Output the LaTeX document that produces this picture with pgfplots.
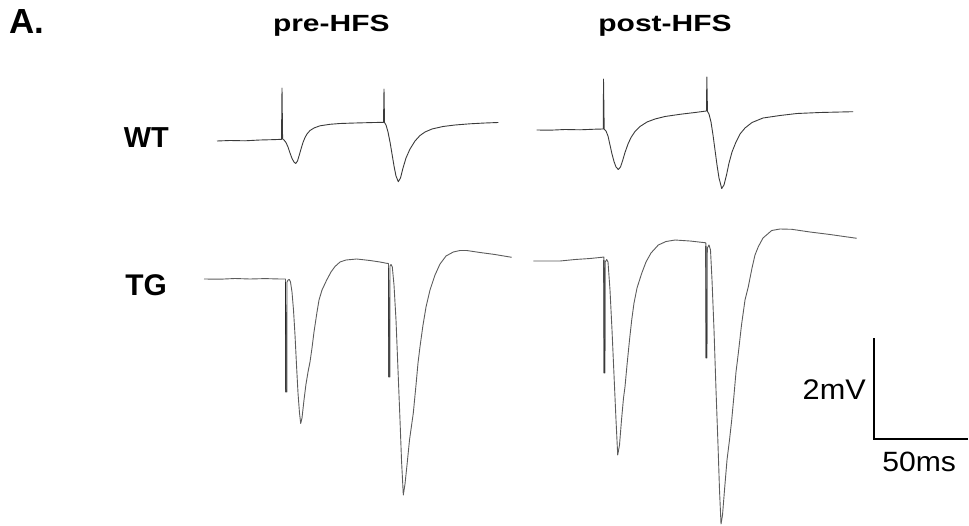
\documentclass[border=0pt]{standalone}
\usepackage{fontspec}
\setmainfont{Liberation Sans}
\usepackage{pgfplots}
\pgfplotsset{compat=1.18}

\definecolor{wtline}{HTML}{3A3A3A}
\definecolor{tgline}{HTML}{5C5C5C}
\definecolor{artline}{HTML}{262626}

\begin{document}
\begin{tikzpicture}
\begin{axis}[
  width=969bp, height=526bp, scale only axis,
  xmin=0, xmax=969, ymin=0, ymax=526,
  y dir=reverse,
  hide axis, clip=false,
]
% keep the page as large as the axis box
\path (rel axis cs:0,0) (rel axis cs:1,1);

% ---- WT, pre-HFS ----
\addplot[wtline, line width=0.9bp, line join=round] coordinates {
(217,141) (230,140.5) (245,140.8) (260,140) (275,139.6) (281.5,139.3)
(282,88) (282.6,139) (284,140) (286,142.5) (288,147) (290,153) (292,158.5)
(294,162) (295.7,163.5) (297.5,161) (299,156) (301,149) (303,142.5) (305,137.5)
(307,134) (310,130.5) (314,128) (320,125.8) (330,124.3) (340,123.5) (355,123)
(370,122.6) (383.5,122.3) (384,89) (384.5,122.5) (386,125) (388,132) (390,142)
(392,154) (394,166) (396,176) (398.3,181.7) (400.5,178) (403,168) (406,158)
(410,149) (415,141) (420,135.5) (425,132) (432,129) (443,126.5) (455,125)
(470,123.8) (485,123) (498.3,122.5)
};

% ---- WT, post-HFS ----
\addplot[wtline, line width=0.9bp, line join=round] coordinates {
(536.7,130) (550,130.2) (565,129.5) (580,129.8) (595,129.2) (603.3,129)
(603.5,79) (604.2,129.3) (606,131) (608,136) (610,145) (612,154) (614,161.5)
(616,167) (618.3,169.5) (620.5,167) (622.5,161) (625,152.5) (628,144)
(631,137.5) (635,131.5) (640,126.5) (647,122) (655,119) (665,116.5)
(680,114.3) (695,112.5) (706.5,111) (706.8,77) (707.5,111.5) (709,114)
(711,122) (713,135) (715,150) (717,165) (719,178) (721.7,188.5) (724,185)
(726.5,175) (729,163) (732,152) (736,142) (740,134) (745,128) (752,122.5)
(763,118) (780,115.5) (797,113.5) (820,112.5) (853,111.7)
};

% ---- TG, pre-HFS ----
\addplot[tgline, line width=0.9bp, line join=round] coordinates {
(204,279) (220,279.2) (235,278.5) (250,279) (265,278.6) (280,279) (285.5,279)
(285.7,392) (286.8,392) (287,282) (288,280) (289.3,279.5) (290.5,282)
(292,292) (293.5,310) (295,335) (296.5,365) (298,393) (299.5,413)
(300.7,423.5) (302,418) (304,400) (306,384) (308,372) (310,362) (312,348)
(314,332) (316.7,314) (319,300) (322,290) (326.7,280) (331,272) (335,266.5)
(340,262) (346,260) (356.7,259) (370,260.5) (380,262) (386.7,263.3)
(388.5,263.5) (388.8,377) (389.8,377) (390,266) (391,264.5) (392.3,267)
(394,285) (396,320) (398,370) (400,420) (401.5,460) (403.3,495) (405,484)
(407,465) (409.5,440) (413.3,413) (416,385) (418,363) (420,346.7) (423,325)
(426,307) (430,290) (435,275) (440,264) (446,256) (453.3,252) (460,250.5)
(466.7,250.5) (480,252.5) (495,254.5) (511.7,257.3)
};
\addplot[artline, line width=0.9bp] coordinates {(285.6,282) (285.8,392)};
\addplot[artline, line width=0.9bp] coordinates {(388.7,268) (388.9,377)};

% ---- TG, post-HFS ----
\addplot[tgline, line width=0.9bp, line join=round] coordinates {
(533.3,261) (545,261) (560,261) (575,259.5) (590,258.5) (601.7,257.3)
(603.8,257) (604,373) (605,373) (605.2,262) (606.7,259.5) (608,262)
(610,290) (612,330) (614,375) (616,420) (617.7,455) (619.5,445) (621.5,420)
(623.5,398) (625,386.7) (627,365) (629.5,340) (631.7,320) (634,303)
(637,288) (641.7,273.3) (646,262) (651,253) (658.3,245) (666,241.5)
(675,240) (690,241) (705,242.7) (705.8,243) (706,358) (707,358)
(707.3,248) (709,245) (710.5,250) (712,280) (714,330) (716,390) (718,445)
(719.5,490) (721,524) (722.5,515) (724.5,490) (727,460) (729.5,440)
(731.7,420) (734,395) (736,372) (738.3,353.3) (741.5,325) (745,300)
(748.3,286.7) (752,268) (755,255) (758.3,246.7) (763,238) (771.7,230.5)
(780,229) (791.7,229.3) (810,232) (830,234.5) (856.7,238.3)
};
\addplot[artline, line width=0.9bp] coordinates {(603.9,260) (604.1,373)};
\addplot[artline, line width=0.9bp] coordinates {(705.9,246) (706.1,358)};

% ---- scale bar ----
\addplot[black, line width=1.6bp, line join=miter] coordinates {
(874,338.3) (874,439) (968,439)
};

% ---- labels ----
\node[anchor=base west, inner sep=0pt, font=\fontsize{35}{40}\selectfont\bfseries]
  at (axis cs:9,34) {A.};
\node[anchor=base, inner sep=0pt, xscale=1.28, font=\fontsize{23.5}{28}\selectfont\bfseries]
  at (axis cs:331.3,31.7) {pre-HFS};
\node[anchor=base, inner sep=0pt, xscale=1.28, font=\fontsize{23.5}{28}\selectfont\bfseries]
  at (axis cs:665,31.5) {post-HFS};
\node[anchor=base, inner sep=0pt, font=\fontsize{29}{34}\selectfont\bfseries]
  at (axis cs:146.3,147.7) {WT};
\node[anchor=base, inner sep=0pt, font=\fontsize{30}{35}\selectfont\bfseries]
  at (axis cs:146,295) {TG};
\node[anchor=base east, inner sep=0pt, xscale=1.08, font=\fontsize{28.5}{33}\selectfont]
  at (axis cs:866,399.3) {2mV};
\node[anchor=base, inner sep=0pt, xscale=1.08, font=\fontsize{28}{33}\selectfont]
  at (axis cs:919.2,471) {50ms};
\end{axis}
\end{tikzpicture}
\end{document}
